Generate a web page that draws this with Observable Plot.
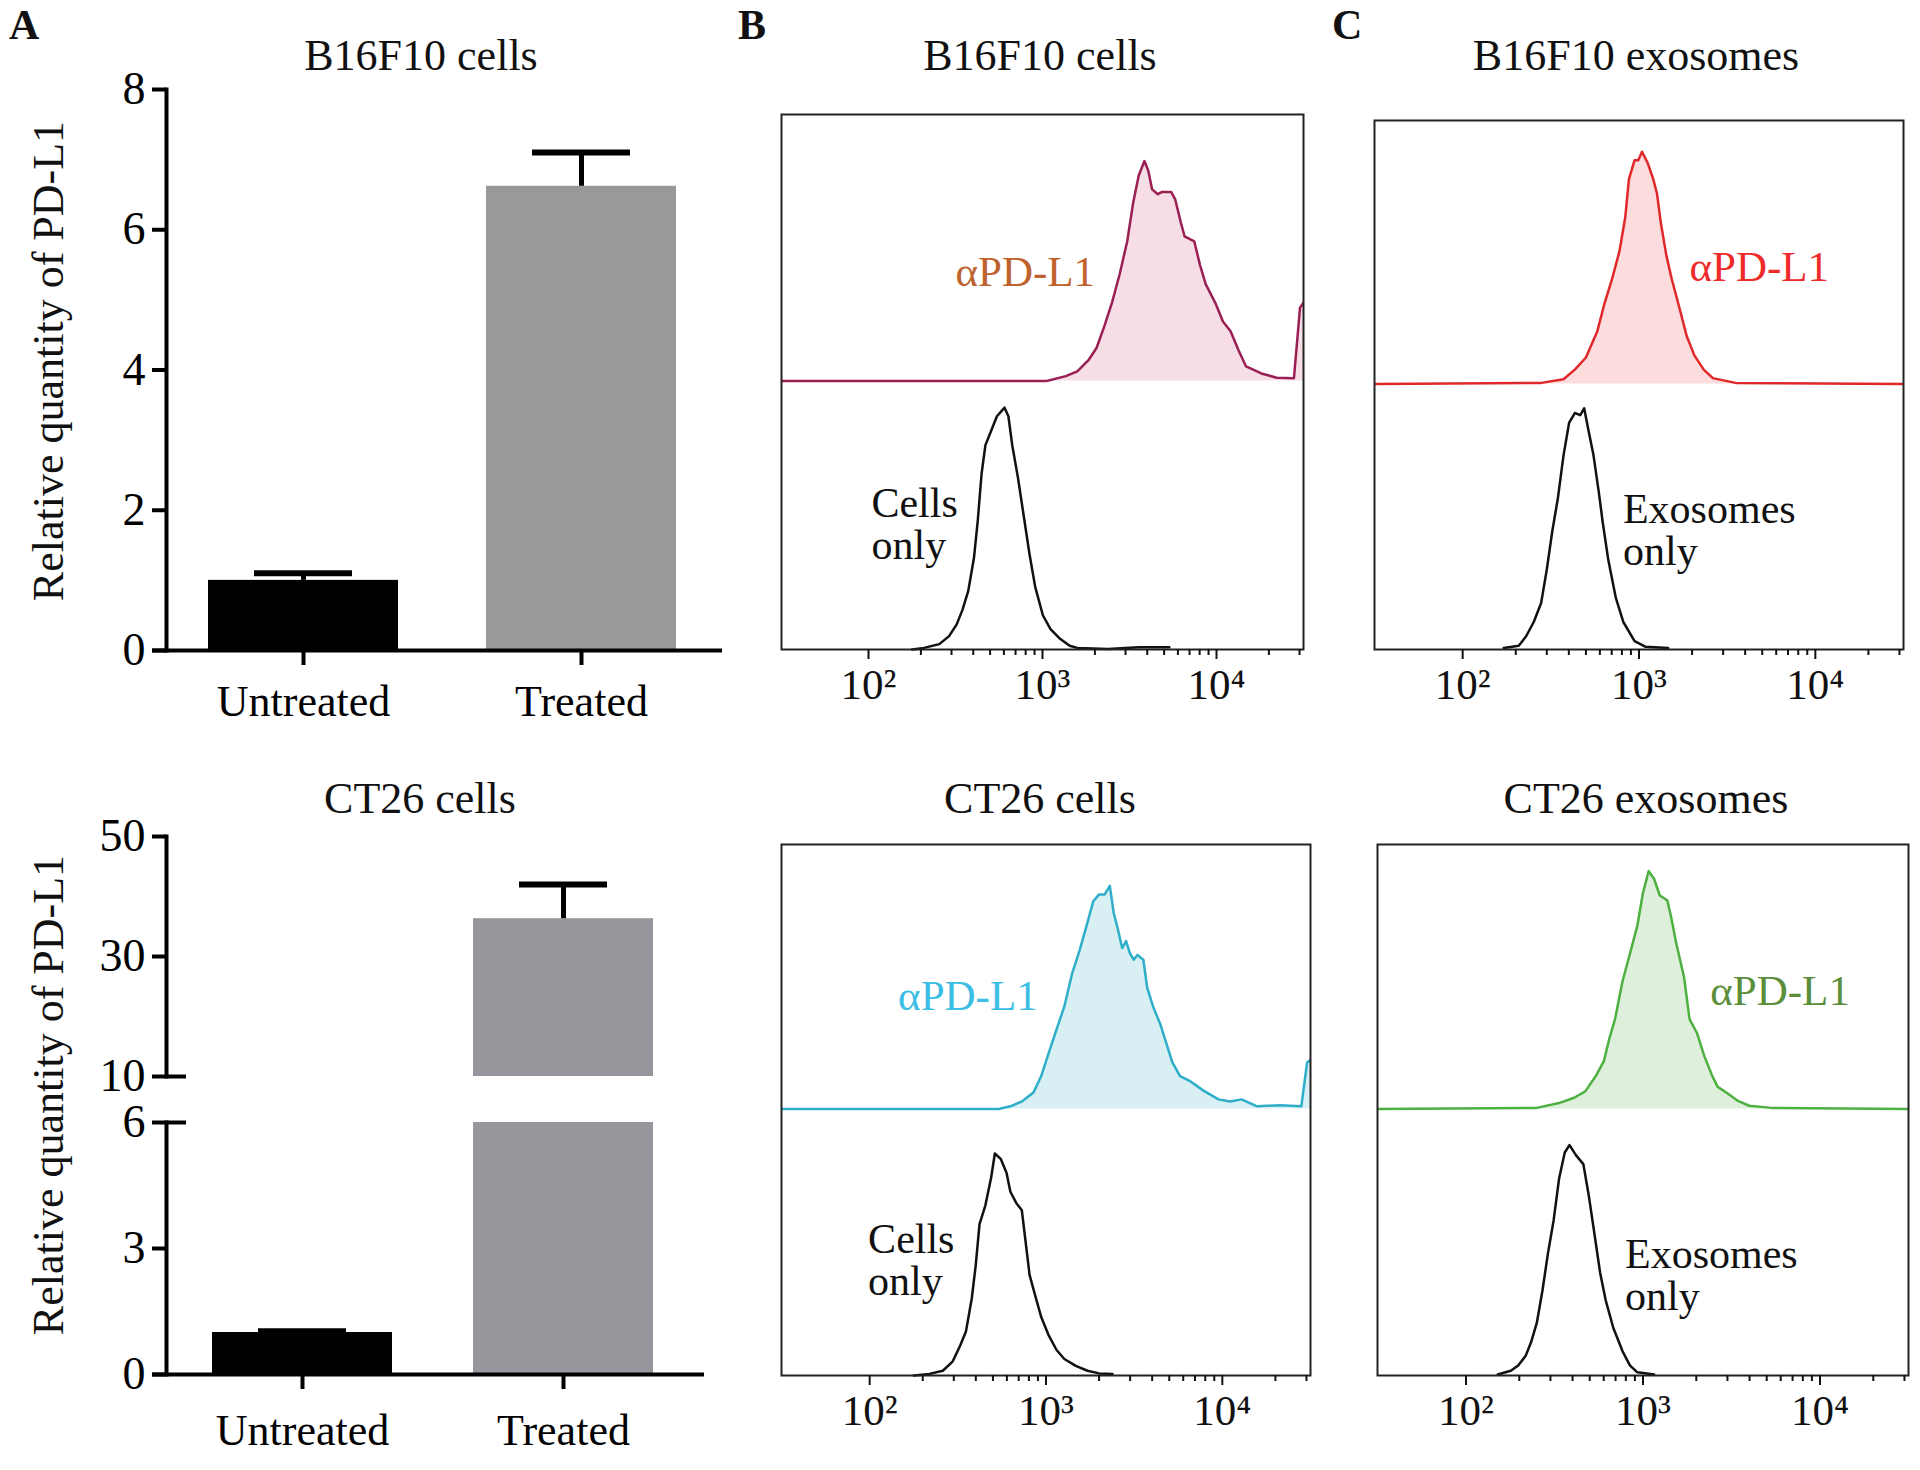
<!DOCTYPE html>
<html><head><meta charset="utf-8">
<script src="https://cdn.jsdelivr.net/npm/d3@7"></script>
<script src="https://cdn.jsdelivr.net/npm/@observablehq/plot@0.6"></script>
<style>
body{margin:0;background:#fff;}
#fig{position:relative;width:1920px;height:1470px;background:#fff;font-family:"Liberation Serif","Times New Roman",serif;color:#111;overflow:hidden}
#fig svg{position:absolute;overflow:visible}
.t{position:absolute;white-space:nowrap;line-height:1;font-size:44px}
.title{transform:translateX(-50%)}
.letter{font-weight:bold;font-size:42px}
.ylab{transform:translate(-50%,-50%) rotate(-90deg)}
</style></head><body><div id="fig"></div><script>
// ---------- data ----------
const groups = ["Untreated", "Treated"];
const b16f10Mean = [1.0, 6.62];
const b16f10Err = [0.1, 0.48];
const ct26Mean = [1.0, 36.3];
const ct26Err = [0.03, 5.7];
const b16f10Ticks = [0, 2, 4, 6, 8];
const ct26UpperTicks = [10, 30, 50];
const ct26LowerTicks = [0, 3, 6];

// flow histograms: [log10 fluorescence, relative count]
const b16CellsAb = [[1.5,0],[3.024,0],[3.134,0.9],[3.2,1.8],[3.267,4.0],[3.311,6.2],[3.355,10.2],[3.399,14.6],[3.443,19.9],[3.487,26.1],[3.52,33.1],[3.553,38.4],[3.586,41.1],[3.608,39.3],[3.63,35.8],[3.663,34.9],[3.685,35.3],[3.74,35.3],[3.762,34.0],[3.795,29.6],[3.817,27.0],[3.872,26.1],[3.905,21.7],[3.938,18.1],[3.993,14.6],[4.037,11.1],[4.081,9.3],[4.126,5.8],[4.17,2.7],[4.258,1.4],[4.346,0.6],[4.445,0.5],[4.48,13.7],[4.5,14.6]];
const b16CellsCtrl = [[2.25,0],[2.319,0.3],[2.407,1.0],[2.463,2.5],[2.507,4.7],[2.54,7.4],[2.573,10.9],[2.606,17.1],[2.628,24.1],[2.65,32.9],[2.672,38.2],[2.705,40.9],[2.738,43.6],[2.782,45.2],[2.804,43.6],[2.826,38.2],[2.859,32.1],[2.892,25.0],[2.925,17.9],[2.958,11.7],[3.002,6.4],[3.046,3.8],[3.101,2.0],[3.156,0.7],[3.2,0.3],[3.377,0.1],[3.553,0.4],[3.729,0.4]];
const ct26CellsAb = [[1.5,0],[2.732,0],[2.798,0.5],[2.863,1.4],[2.929,3.1],[2.973,6.2],[3.016,10.6],[3.06,15.0],[3.104,19.3],[3.148,25.5],[3.191,29.9],[3.235,35.1],[3.268,39.1],[3.301,40.4],[3.333,40.4],[3.362,42.0],[3.384,36.9],[3.405,34.2],[3.432,30.3],[3.454,31.6],[3.475,29.4],[3.497,28.1],[3.519,29.0],[3.552,28.1],[3.574,22.8],[3.607,19.3],[3.65,15.8],[3.683,12.3],[3.716,8.8],[3.76,6.2],[3.814,5.3],[3.891,3.5],[3.978,1.8],[4.044,1.4],[4.109,1.8],[4.197,0.5],[4.328,0.7],[4.448,0.5],[4.481,8.8],[4.5,9.2]];
const ct26CellsCtrl = [[2.25,0],[2.339,0.3],[2.415,0.9],[2.47,2.6],[2.514,5.7],[2.546,8.3],[2.579,14.5],[2.601,20.6],[2.623,28.5],[2.656,32.0],[2.689,37.3],[2.71,41.8],[2.743,40.8],[2.776,38.2],[2.798,34.6],[2.831,32.5],[2.863,31.1],[2.885,25.0],[2.907,18.9],[2.94,14.9],[2.973,11.0],[3.016,7.5],[3.06,4.8],[3.104,3.1],[3.169,1.8],[3.235,0.9],[3.301,0.4],[3.377,0.3]];
const b16ExoAb = [[1.5,0],[2.445,0.2],[2.572,0.9],[2.636,2.7],[2.699,5.0],[2.763,9.9],[2.805,15.3],[2.847,19.8],[2.89,25.2],[2.922,31.5],[2.943,38.7],[2.975,42.3],[2.996,42.3],[3.017,43.9],[3.049,41.8],[3.081,38.7],[3.102,36.0],[3.123,30.6],[3.155,24.3],[3.186,19.8],[3.229,14.4],[3.271,9.0],[3.314,5.4],[3.367,2.7],[3.419,1.1],[3.547,0.2],[4.5,0]];
const b16ExoCtrl = [[2.233,0.3],[2.318,0.7],[2.36,2.5],[2.403,5.2],[2.445,8.8],[2.477,15.1],[2.508,22.3],[2.54,28.6],[2.572,36.7],[2.604,42.9],[2.636,44.7],[2.667,44.3],[2.689,45.6],[2.71,42.0],[2.742,36.7],[2.773,29.5],[2.794,24.1],[2.826,16.9],[2.869,9.7],[2.911,5.2],[2.975,1.6],[3.038,0.5],[3.165,0.3]];
const ct26ExoAb = [[1.5,0],[2.4,0.2],[2.526,1.1],[2.611,2.1],[2.674,3.3],[2.737,6.4],[2.779,9.0],[2.811,13.4],[2.842,16.9],[2.884,24.0],[2.926,29.2],[2.968,34.5],[3.0,40.7],[3.032,44.8],[3.063,43.3],[3.095,40.2],[3.137,39.3],[3.158,36.3],[3.189,31.0],[3.232,24.8],[3.263,16.9],[3.305,14.3],[3.347,9.9],[3.389,6.4],[3.421,4.2],[3.474,3.0],[3.537,1.5],[3.6,0.6],[3.726,0.2],[4.5,0]];
const ct26ExoCtrl = [[2.179,0.2],[2.253,0.9],[2.295,1.9],[2.337,3.7],[2.368,6.3],[2.4,9.9],[2.432,16.0],[2.463,23.0],[2.495,29.2],[2.526,37.1],[2.558,42.0],[2.585,43.4],[2.621,41.5],[2.663,39.8],[2.695,33.6],[2.726,26.6],[2.758,19.3],[2.789,14.2],[2.832,9.0],[2.884,4.6],[2.926,1.9],[2.968,0.6],[3.063,0.2]];
const majorTicks = [100, 1000, 10000];
const minorTicks = [200,300,400,500,600,700,800,900,2000,3000,4000,5000,6000,7000,8000,9000,20000,30000];

// ---------- helpers ----------
const FONT = "'Liberation Serif','Times New Roman',serif";
const fig = document.getElementById("fig");
function put(node, left, top) { node.style.left = left + "px"; node.style.top = top + "px"; fig.appendChild(node); }
function text(str, cls, left, top, color) {
  const d = document.createElement("div"); d.className = "t " + cls; d.textContent = str;
  if (color) d.style.color = color; put(d, left, top); return d;
}
const sup = {2: "\u00B2", 3: "\u00B3", 4: "\u2074"};

function barPlot({rows, yDomain, ticks, width, height, ml, mr, mt, mb, pi, po, xAxis, breakTick, pad}) {
  const marks = [
    Plot.barY(rows, {x: "g", y: "v", fill: "c", clip: true}),
    Plot.ruleX(rows, {x: "g", y1: "v", y2: d => d.v + d.e, stroke: "#000", strokeWidth: 5, clip: true}),
    Plot.tickY(rows, {x: "g", y: d => d.v + d.e, stroke: "#000", strokeWidth: 6, insetLeft: 46, insetRight: 46, clip: true}),
    Plot.axisY({ticks, tickSize: 14, tickPadding: 7, strokeWidth: 4, fontSize: 46, label: null, tickFormat: d => String(d)}),
    Plot.frame({anchor: "left", stroke: "#000", strokeWidth: 4})
  ];
  if (breakTick != null) marks.push(Plot.axisY({ticks: [breakTick], tickSize: -20, strokeWidth: 4, tickFormat: () => "", label: null}));
  if (xAxis) {
    marks.push(Plot.ruleY([yDomain[0]], {stroke: "#000", strokeWidth: 4, insetLeft: -14, insetRight: -4}));
    marks.push(Plot.axisX({tickSize: 15, tickPadding: pad, strokeWidth: 4, fontSize: 44, label: null}));
  }
  return Plot.plot({
    width, height, marginLeft: ml, marginRight: mr, marginTop: mt, marginBottom: mb,
    x: {type: "band", domain: groups, paddingInner: pi, paddingOuter: po, axis: null},
    y: {domain: yDomain, axis: null},
    style: {fontFamily: FONT, fontSize: "44px", color: "#000", background: "transparent"},
    marks
  });
}

const OFFSET = 50.2;
function flowPlot({width, height, ml, mr, mt, mb, ab, ctrl, stroke, fill, labelColor, abPos, ctrlPos, ctrlText}) {
  const lx = d => 10 ** d[0];
  return Plot.plot({
    width, height, marginLeft: ml, marginRight: mr, marginTop: mt, marginBottom: mb,
    x: {type: "log", domain: [10 ** 1.5, 10 ** 4.5]},
    y: {domain: [0, 100], axis: null},
    style: {fontFamily: FONT, fontSize: "43px", color: "#111", background: "transparent"},
    marks: [
      Plot.areaY(ab, {x: lx, y1: OFFSET, y2: d => OFFSET + d[1], fill, clip: true}),
      Plot.lineY(ab, {x: lx, y: d => OFFSET + d[1], stroke, strokeWidth: 2.5, clip: true}),
      Plot.lineY(ctrl, {x: lx, y: d => d[1], stroke: "#111", strokeWidth: 2.5}),
      Plot.frame({stroke: "#222", strokeWidth: 2}),
      Plot.axisX({ticks: majorTicks, tickSize: 10, tickPadding: 9, strokeWidth: 2, fontSize: 43, label: null,
        tickFormat: d => "10" + sup[Math.round(Math.log10(d))]}),
      Plot.axisX({ticks: minorTicks, tickSize: 6, strokeWidth: 2, label: null, tickFormat: () => ""}),
      Plot.text(["\u03B1PD-L1"], {x: [abPos[0]], y: [abPos[1]], text: d => d, fill: labelColor, textAnchor: "start", fontSize: 43}),
      Plot.text([ctrlText], {x: [ctrlPos[0]], y: [ctrlPos[1]], text: d => d, fill: "#111", textAnchor: "start", fontSize: 42, lineHeight: 1.0})
    ]
  });
}

// ---------- Panel A ----------
const b16Rows = groups.map((g, i) => ({g, v: b16f10Mean[i], e: b16f10Err[i], c: i ? "#999999" : "#000000"}));
const ct26Rows = groups.map((g, i) => ({g, v: ct26Mean[i], e: ct26Err[i], c: i ? "#96979c" : "#000000"}));

put(barPlot({rows: b16Rows, yDomain: [0, 8], ticks: b16f10Ticks, width: 740, height: 740,
  ml: 166, mr: 22, mt: 89, mb: 90, pi: 0.317, po: 0.151, xAxis: true, pad: 19}), 0, 0);

put(barPlot({rows: ct26Rows, yDomain: [10, 50], ticks: ct26UpperTicks, width: 740, height: 330,
  ml: 166, mr: 40, mt: 76, mb: 14, pi: 0.309, po: 0.174, xAxis: false, breakTick: 10}), 0, 760);
put(barPlot({rows: ct26Rows, yDomain: [0, 6], ticks: ct26LowerTicks, width: 740, height: 380,
  ml: 166, mr: 40, mt: 32, mb: 96, pi: 0.309, po: 0.174, xAxis: true, breakTick: 6, pad: 24}), 0, 1090);

// ---------- Panels B & C ----------
put(flowPlot({width: 600, height: 740, ml: 41, mr: 37, mt: 114, mb: 91, ab: b16CellsAb, ctrl: b16CellsCtrl,
  stroke: "#9a1f52", fill: "#f7dde6", labelColor: "#c0622d", abPos: [316, 70.5], ctrlPos: [104, 23.4], ctrlText: "Cells\nonly"}), 740, 0);
put(flowPlot({width: 600, height: 730, ml: 41, mr: 30, mt: 104, mb: 95, ab: ct26CellsAb, ctrl: ct26CellsCtrl,
  stroke: "#2eaec9", fill: "#d8eff4", labelColor: "#3cbde3", abPos: [145, 71.4], ctrlPos: [98, 21.7], ctrlText: "Cells\nonly"}), 740, 740);
put(flowPlot({width: 580, height: 740, ml: 34, mr: 17, mt: 120, mb: 91, ab: b16ExoAb, ctrl: b16ExoCtrl,
  stroke: "#e0282a", fill: "#fcdcdc", labelColor: "#ee2b2b", abPos: [1932, 72.2], ctrlPos: [811, 22.5], ctrlText: "Exosomes\nonly"}), 1340, 0);
put(flowPlot({width: 580, height: 730, ml: 37, mr: 12, mt: 104, mb: 95, ab: ct26ExoAb, ctrl: ct26ExoCtrl,
  stroke: "#4db040", fill: "#def0dc", labelColor: "#5b8e3a", abPos: [2400, 72.3], ctrlPos: [791, 18.8], ctrlText: "Exosomes\nonly"}), 1340, 740);

// ---------- texts ----------
text("A", "letter", 9, 4);
text("B", "letter", 738, 4);
text("C", "letter", 1332, 4);
text("B16F10 cells", "title", 421, 34);
text("CT26 cells", "title", 420, 777);
text("B16F10 cells", "title", 1040, 34);
text("CT26 cells", "title", 1040, 777);
text("B16F10 exosomes", "title", 1636, 34);
text("CT26 exosomes", "title", 1646, 777);
text("Relative quantity of PD-L1", "ylab", 49, 361);
text("Relative quantity of PD-L1", "ylab", 49, 1095);
</script></body></html>
